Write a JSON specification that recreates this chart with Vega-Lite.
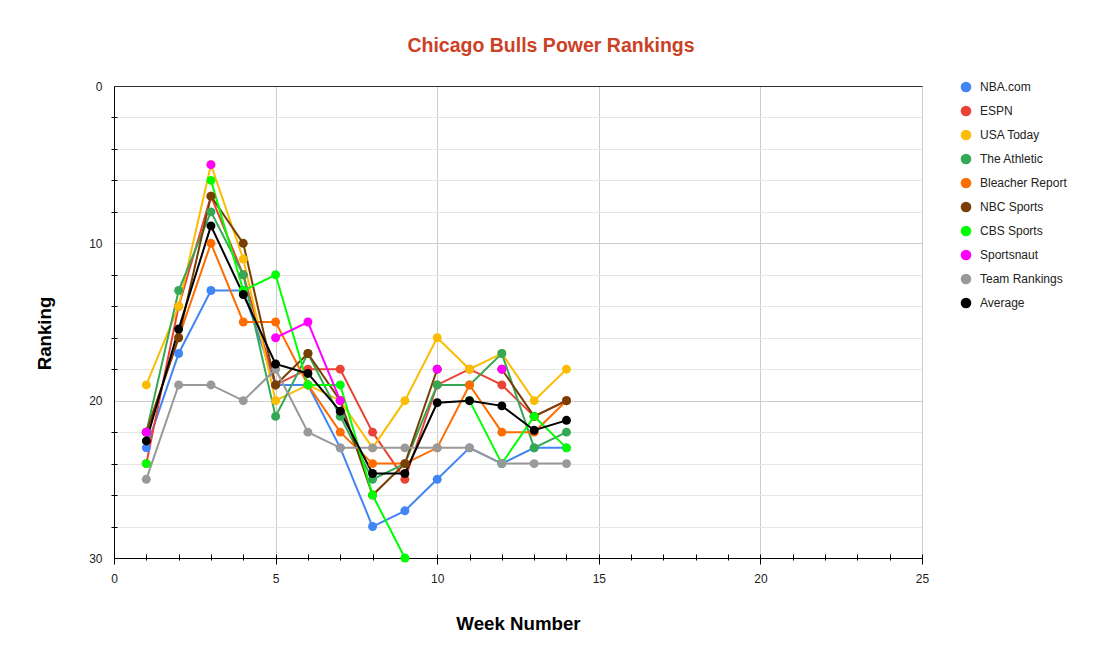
{
  "$schema": "https://vega.github.io/schema/vega-lite/v6.json",
  "width": 808,
  "height": 472,
  "autosize": "none",
  "padding": {"left": 114, "top": 86, "right": 180, "bottom": 108},
  "background": "#ffffff",
  "title": {
    "text": "Chicago Bulls Power Rankings",
    "font": "Liberation Sans",
    "fontSize": 19.5,
    "fontWeight": "bold",
    "color": "#cc4125",
    "anchor": "middle",
    "dx": 33,
    "offset": 24
  },
  "data": {
    "values": [
      {"week": 1, "source": "NBA.com", "rank": 23}, {"week": 2, "source": "NBA.com", "rank": 17}, {"week": 3, "source": "NBA.com", "rank": 13}, {"week": 4, "source": "NBA.com", "rank": 13}, {"week": 5, "source": "NBA.com", "rank": 19}, {"week": 6, "source": "NBA.com", "rank": 19}, {"week": 7, "source": "NBA.com", "rank": 23}, {"week": 8, "source": "NBA.com", "rank": 28}, {"week": 9, "source": "NBA.com", "rank": 27}, {"week": 10, "source": "NBA.com", "rank": 25}, {"week": 11, "source": "NBA.com", "rank": 23}, {"week": 12, "source": "NBA.com", "rank": 24}, {"week": 13, "source": "NBA.com", "rank": 23}, {"week": 14, "source": "NBA.com", "rank": 23},
      {"week": 1, "source": "ESPN", "rank": 24}, {"week": 2, "source": "ESPN", "rank": 14}, {"week": 3, "source": "ESPN", "rank": 7}, {"week": 4, "source": "ESPN", "rank": 12}, {"week": 5, "source": "ESPN", "rank": 19}, {"week": 6, "source": "ESPN", "rank": 18}, {"week": 7, "source": "ESPN", "rank": 18}, {"week": 8, "source": "ESPN", "rank": 22}, {"week": 9, "source": "ESPN", "rank": 25}, {"week": 10, "source": "ESPN", "rank": 19}, {"week": 11, "source": "ESPN", "rank": 18}, {"week": 12, "source": "ESPN", "rank": 19}, {"week": 13, "source": "ESPN", "rank": 21}, {"week": 14, "source": "ESPN", "rank": 20},
      {"week": 1, "source": "USA Today", "rank": 19}, {"week": 2, "source": "USA Today", "rank": 14}, {"week": 3, "source": "USA Today", "rank": 5}, {"week": 4, "source": "USA Today", "rank": 11}, {"week": 5, "source": "USA Today", "rank": 20}, {"week": 6, "source": "USA Today", "rank": 19}, {"week": 7, "source": "USA Today", "rank": 20}, {"week": 8, "source": "USA Today", "rank": 23}, {"week": 9, "source": "USA Today", "rank": 20}, {"week": 10, "source": "USA Today", "rank": 16}, {"week": 11, "source": "USA Today", "rank": 18}, {"week": 12, "source": "USA Today", "rank": 17}, {"week": 13, "source": "USA Today", "rank": 20}, {"week": 14, "source": "USA Today", "rank": 18},
      {"week": 1, "source": "The Athletic", "rank": 22}, {"week": 2, "source": "The Athletic", "rank": 13}, {"week": 3, "source": "The Athletic", "rank": 8}, {"week": 4, "source": "The Athletic", "rank": 12}, {"week": 5, "source": "The Athletic", "rank": 21}, {"week": 6, "source": "The Athletic", "rank": 17}, {"week": 7, "source": "The Athletic", "rank": 21}, {"week": 8, "source": "The Athletic", "rank": 25}, {"week": 9, "source": "The Athletic", "rank": 24}, {"week": 10, "source": "The Athletic", "rank": 19}, {"week": 11, "source": "The Athletic", "rank": 19}, {"week": 12, "source": "The Athletic", "rank": 17}, {"week": 13, "source": "The Athletic", "rank": 23}, {"week": 14, "source": "The Athletic", "rank": 22},
      {"week": 1, "source": "Bleacher Report", "rank": 22}, {"week": 2, "source": "Bleacher Report", "rank": 16}, {"week": 3, "source": "Bleacher Report", "rank": 10}, {"week": 4, "source": "Bleacher Report", "rank": 15}, {"week": 5, "source": "Bleacher Report", "rank": 15}, {"week": 6, "source": "Bleacher Report", "rank": 19}, {"week": 7, "source": "Bleacher Report", "rank": 22}, {"week": 8, "source": "Bleacher Report", "rank": 24}, {"week": 9, "source": "Bleacher Report", "rank": 24}, {"week": 10, "source": "Bleacher Report", "rank": 23}, {"week": 11, "source": "Bleacher Report", "rank": 19}, {"week": 12, "source": "Bleacher Report", "rank": 22}, {"week": 13, "source": "Bleacher Report", "rank": 22}, {"week": 14, "source": "Bleacher Report", "rank": 20},
      {"week": 1, "source": "NBC Sports", "rank": 22}, {"week": 2, "source": "NBC Sports", "rank": 16}, {"week": 3, "source": "NBC Sports", "rank": 7}, {"week": 4, "source": "NBC Sports", "rank": 10}, {"week": 5, "source": "NBC Sports", "rank": 19}, {"week": 6, "source": "NBC Sports", "rank": 17}, {"week": 7, "source": "NBC Sports", "rank": 20}, {"week": 8, "source": "NBC Sports", "rank": 26}, {"week": 9, "source": "NBC Sports", "rank": 24}, {"week": 10, "source": "NBC Sports", "rank": 18}, {"week": 11, "source": "NBC Sports", "rank": null}, {"week": 12, "source": "NBC Sports", "rank": 18}, {"week": 13, "source": "NBC Sports", "rank": 21}, {"week": 14, "source": "NBC Sports", "rank": 20},
      {"week": 1, "source": "CBS Sports", "rank": 24}, {"week": 2, "source": "CBS Sports", "rank": null}, {"week": 3, "source": "CBS Sports", "rank": 6}, {"week": 4, "source": "CBS Sports", "rank": 13}, {"week": 5, "source": "CBS Sports", "rank": 12}, {"week": 6, "source": "CBS Sports", "rank": 19}, {"week": 7, "source": "CBS Sports", "rank": 19}, {"week": 8, "source": "CBS Sports", "rank": 26}, {"week": 9, "source": "CBS Sports", "rank": 30}, {"week": 10, "source": "CBS Sports", "rank": null}, {"week": 11, "source": "CBS Sports", "rank": 20}, {"week": 12, "source": "CBS Sports", "rank": 24}, {"week": 13, "source": "CBS Sports", "rank": 21}, {"week": 14, "source": "CBS Sports", "rank": 23},
      {"week": 1, "source": "Sportsnaut", "rank": 22}, {"week": 2, "source": "Sportsnaut", "rank": null}, {"week": 3, "source": "Sportsnaut", "rank": 5}, {"week": 4, "source": "Sportsnaut", "rank": null}, {"week": 5, "source": "Sportsnaut", "rank": 16}, {"week": 6, "source": "Sportsnaut", "rank": 15}, {"week": 7, "source": "Sportsnaut", "rank": 20}, {"week": 8, "source": "Sportsnaut", "rank": null}, {"week": 9, "source": "Sportsnaut", "rank": null}, {"week": 10, "source": "Sportsnaut", "rank": 18}, {"week": 11, "source": "Sportsnaut", "rank": null}, {"week": 12, "source": "Sportsnaut", "rank": 18}, {"week": 13, "source": "Sportsnaut", "rank": null}, {"week": 14, "source": "Sportsnaut", "rank": null},
      {"week": 1, "source": "Team Rankings", "rank": 25}, {"week": 2, "source": "Team Rankings", "rank": 19}, {"week": 3, "source": "Team Rankings", "rank": 19}, {"week": 4, "source": "Team Rankings", "rank": 20}, {"week": 5, "source": "Team Rankings", "rank": 18}, {"week": 6, "source": "Team Rankings", "rank": 22}, {"week": 7, "source": "Team Rankings", "rank": 23}, {"week": 8, "source": "Team Rankings", "rank": 23}, {"week": 9, "source": "Team Rankings", "rank": 23}, {"week": 10, "source": "Team Rankings", "rank": 23}, {"week": 11, "source": "Team Rankings", "rank": 23}, {"week": 12, "source": "Team Rankings", "rank": 24}, {"week": 13, "source": "Team Rankings", "rank": 24}, {"week": 14, "source": "Team Rankings", "rank": 24},
      {"week": 1, "source": "Average", "rank": 22.56}, {"week": 2, "source": "Average", "rank": 15.45}, {"week": 3, "source": "Average", "rank": 8.89}, {"week": 4, "source": "Average", "rank": 13.25}, {"week": 5, "source": "Average", "rank": 17.67}, {"week": 6, "source": "Average", "rank": 18.27}, {"week": 7, "source": "Average", "rank": 20.67}, {"week": 8, "source": "Average", "rank": 24.63}, {"week": 9, "source": "Average", "rank": 24.63}, {"week": 10, "source": "Average", "rank": 20.13}, {"week": 11, "source": "Average", "rank": 20.0}, {"week": 12, "source": "Average", "rank": 20.33}, {"week": 13, "source": "Average", "rank": 21.88}, {"week": 14, "source": "Average", "rank": 21.25}
    ]
  },
  "layer": [
    {
      "mark": {"type": "line", "strokeWidth": 2, "invalid": "break-paths-filter-domains"},
      "encoding": {
        "x": {
          "field": "week", "type": "quantitative",
          "scale": {"domain": [0, 25], "nice": false, "zero": false},
          "axis": {
            "orient": "bottom",
            "values": [0, 5, 10, 15, 20, 25],
            "title": "Week Number",
            "grid": true, "gridColor": "#cccccc",
            "ticks": false,
            "labelFlush": false,
            "domainColor": "#000000",
            "labelPadding": 15,
            "titlePadding": 30
          }
        },
        "y": {
          "field": "rank", "type": "quantitative",
          "scale": {"domain": [0, 30], "reverse": true, "nice": false},
          "axis": {
            "orient": "left",
            "values": [0, 2, 4, 6, 8, 10, 12, 14, 16, 18, 20, 22, 24, 26, 28, 30],
            "labelExpr": "datum.value % 10 === 0 ? datum.label : ''",
            "title": "Ranking",
            "titleY": 247,
            "grid": true,
            "gridColor": {"condition": {"test": "datum.value % 10 === 0", "value": "#cccccc"}, "value": "#e6e6e6"},
            "ticks": false,
            "labelFlush": false,
            "domainColor": "#000000",
            "labelPadding": 12,
            "titlePadding": 34
          }
        },
        "color": {
          "field": "source", "type": "nominal",
          "scale": {
            "domain": ["NBA.com", "ESPN", "USA Today", "The Athletic", "Bleacher Report", "NBC Sports", "CBS Sports", "Sportsnaut", "Team Rankings", "Average"],
            "range": ["#4285f4", "#ea4335", "#fbbc04", "#34a853", "#ff6d01", "#783f04", "#00ff00", "#ff00ff", "#999999", "#000000"]
          },
          "legend": {
            "title": null,
            "orient": "none",
            "legendX": 846,
            "legendY": -5,
            "padding": 0,
            "symbolType": "circle",
            "symbolSize": 113,
            "symbolStrokeWidth": 0,
            "labelOffset": 8,
            "rowPadding": 12,
            "labelFontSize": 12,
            "labelColor": "#222222",
            "labelFont": "Liberation Sans",
            "encode": {"symbols": {"update": {"fill": {"scale": "color", "field": "value"}, "opacity": {"value": 1}}}}
          }
        }
      }
    },
    {
      "mark": {"type": "point", "filled": true, "size": 80, "opacity": 1},
      "encoding": {
        "x": {
          "field": "week", "type": "quantitative",
          "axis": {
            "orient": "bottom",
            "values": [0, 1, 2, 3, 4, 5, 6, 7, 8, 9, 10, 11, 12, 13, 14, 15, 16, 17, 18, 19, 20, 21, 22, 23, 24, 25],
            "domain": false, "labels": false, "grid": false, "title": null,
            "ticks": true, "tickColor": "#000000",
            "tickSize": {"condition": {"test": "datum.value % 5 === 0", "value": 10}, "value": 6},
            "offset": -4
          }
        },
        "y": {
          "field": "rank", "type": "quantitative",
          "axis": {
            "orient": "left",
            "values": [2, 4, 6, 8, 12, 14, 16, 18, 22, 24, 26, 28],
            "domain": false, "labels": false, "grid": false, "title": null,
            "ticks": true, "tickColor": "#000000", "tickSize": 6,
            "offset": -3
          }
        },
        "color": {"field": "source", "type": "nominal"}
      }
    },
    {
      "mark": {"type": "point", "opacity": 0},
      "encoding": {
        "x": {
          "field": "week", "type": "quantitative",
          "axis": {"orient": "top", "domain": true, "domainColor": "#333333", "labels": false, "ticks": false, "grid": false, "title": null}
        },
        "y": {"field": "rank", "type": "quantitative", "axis": null}
      }
    }
  ],
  "resolve": {"axis": {"x": "independent", "y": "independent"}},
  "config": {
    "view": {"stroke": null},
    "font": "Liberation Sans",
    "axis": {
      "labelFont": "Liberation Sans",
      "labelFontSize": 12,
      "labelColor": "#222222",
      "titleFont": "Liberation Sans",
      "titleFontSize": 18.7,
      "titleFontWeight": "bold",
      "titleColor": "#000000"
    }
  }
}
